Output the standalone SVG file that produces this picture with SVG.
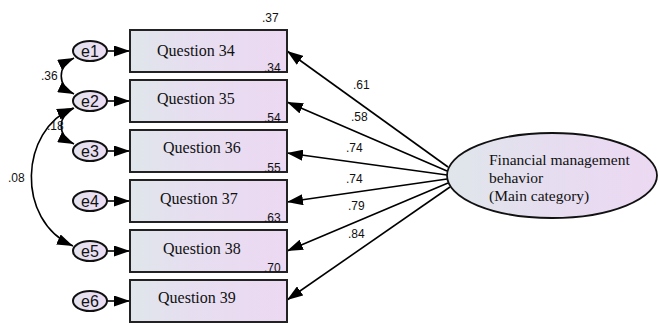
<svg xmlns="http://www.w3.org/2000/svg" width="659" height="325" viewBox="0 0 659 325">
  <style>
    .box { fill: url(#boxFill); stroke: #222; stroke-width: 2; }
    .err { fill: url(#errFill); stroke: #111; stroke-width: 2; }
    .lat { fill: url(#latFill); stroke: #111; stroke-width: 1.8; }
    .qt { font-size: 16px; fill: #111; }
    .lt { font-size: 15.5px; fill: #111; }
    .et { font-family: "Liberation Sans", Arial, sans-serif; font-size: 16px; fill: #111; text-anchor: middle; }
    .num { font-family: "Liberation Sans", Arial, sans-serif; font-size: 12px; fill: #111; }
    .path { fill: none; stroke: #000; stroke-width: 1.6; }
  </style>
  <defs>
    <linearGradient id="boxFill" x1="0" y1="0" x2="1" y2="0">
      <stop offset="0" stop-color="#dfe6ea"/>
      <stop offset="0.35" stop-color="#e6dff0"/>
      <stop offset="1" stop-color="#ecd8f2"/>
    </linearGradient>
    <linearGradient id="errFill" x1="0" y1="0" x2="1" y2="0">
      <stop offset="0" stop-color="#e3e3ef"/>
      <stop offset="1" stop-color="#ecdcf2"/>
    </linearGradient>
    <linearGradient id="latFill" x1="0" y1="0" x2="1" y2="0">
      <stop offset="0" stop-color="#dfe6ea"/>
      <stop offset="0.5" stop-color="#e6ddf0"/>
      <stop offset="1" stop-color="#ecd8f2"/>
    </linearGradient>
    <marker id="head" viewBox="0 0 16 11" refX="16" refY="5.5" markerWidth="16" markerHeight="11" markerUnits="userSpaceOnUse" orient="auto-start-reverse">
      <path d="M0,0 L16,5.5 L0,11 Z" fill="#000"/>
    </marker>
  </defs>

  <!-- connectors -->
  <g id="connectors">
    <!-- error terms to indicators -->
    <path class="path" d="M107,51 L130,51" marker-end="url(#head)"/>
    <path class="path" d="M107,101 L130,101" marker-end="url(#head)"/>
    <path class="path" d="M107,151 L130,151" marker-end="url(#head)"/>
    <path class="path" d="M107,201 L130,201" marker-end="url(#head)"/>
    <path class="path" d="M107,251 L130,251" marker-end="url(#head)"/>
    <path class="path" d="M107,301 L130,301" marker-end="url(#head)"/>
    <!-- covariances -->
    <path class="path" d="M74,58 C57,66 57,86 74,94" marker-start="url(#head)" marker-end="url(#head)"/>
    <path class="path" d="M74,108 C57,116 57,136 74,144" marker-start="url(#head)" marker-end="url(#head)"/>
    <path class="path" d="M73,108 C20,130 15,220 73,246" marker-start="url(#head)" marker-end="url(#head)"/>
    <!-- loadings -->
    <path class="path" d="M448,167 L287,51" marker-end="url(#head)"/>
    <path class="path" d="M447,171 L287,102" marker-end="url(#head)"/>
    <path class="path" d="M447,175 L287,153" marker-end="url(#head)"/>
    <path class="path" d="M447,179 L287,202" marker-end="url(#head)"/>
    <path class="path" d="M448,183 L287,251" marker-end="url(#head)"/>
    <path class="path" d="M450,187 L287,300" marker-end="url(#head)"/>
  </g>

  <!-- latent factor -->
  <g id="factor" font-family="'Liberation Serif', 'Times New Roman', serif">
    <ellipse class="lat" cx="552" cy="175.5" rx="105" ry="42.5"/>
    <text class="lt" x="489" y="165">Financial management</text>
    <text class="lt" x="489" y="183">behavior</text>
    <text class="lt" x="489" y="201">(Main category)</text>
  </g>

  <!-- indicators -->
  <g id="indicators" font-family="'Liberation Serif', 'Times New Roman', serif">
    <g id="q34">
      <rect class="box" x="130" y="30" width="157" height="42"/>
      <text class="qt" x="157" y="56">Question 34</text>
    </g>
    <g id="q35">
      <rect class="box" x="130" y="80" width="157" height="42"/>
      <text class="qt" x="157" y="104">Question 35</text>
    </g>
    <g id="q36">
      <rect class="box" x="130" y="130" width="157" height="42"/>
      <text class="qt" x="163" y="153">Question 36</text>
    </g>
    <g id="q37">
      <rect class="box" x="130" y="180" width="157" height="42"/>
      <text class="qt" x="160" y="204">Question 37</text>
    </g>
    <g id="q38">
      <rect class="box" x="130" y="230" width="157" height="42"/>
      <text class="qt" x="163" y="254">Question 38</text>
    </g>
    <g id="q39">
      <rect class="box" x="130" y="280" width="157" height="42"/>
      <text class="qt" x="158" y="303">Question 39</text>
    </g>
  </g>

  <!-- error terms -->
  <g id="e1"><ellipse class="err" cx="90" cy="51" rx="17" ry="10"/><text class="et" x="90" y="57">e1</text></g>
  <g id="e2"><ellipse class="err" cx="90" cy="101" rx="17" ry="10"/><text class="et" x="90" y="107">e2</text></g>
  <g id="e3"><ellipse class="err" cx="90" cy="151" rx="17" ry="10"/><text class="et" x="90" y="157">e3</text></g>
  <g id="e4"><ellipse class="err" cx="90" cy="201" rx="17" ry="10"/><text class="et" x="90" y="207">e4</text></g>
  <g id="e5"><ellipse class="err" cx="90" cy="251" rx="17" ry="10"/><text class="et" x="90" y="257">e5</text></g>
  <g id="e6"><ellipse class="err" cx="90" cy="301" rx="17" ry="10"/><text class="et" x="90" y="307">e6</text></g>

  <!-- estimates -->
  <g id="estimates">
    <text class="num" x="262" y="22">.37</text>
    <text class="num" x="264" y="72">.34</text>
    <text class="num" x="264" y="122">.54</text>
    <text class="num" x="264" y="172">.55</text>
    <text class="num" x="264" y="222">.63</text>
    <text class="num" x="264" y="272">.70</text>
    <text class="num" x="41" y="80">.36</text>
    <text class="num" x="47" y="130">.18</text>
    <text class="num" x="8" y="182">.08</text>
    <text class="num" x="353" y="89">.61</text>
    <text class="num" x="351" y="121">.58</text>
    <text class="num" x="346" y="152">.74</text>
    <text class="num" x="346" y="183">.74</text>
    <text class="num" x="348" y="210">.79</text>
    <text class="num" x="348" y="238">.84</text>
  </g>
</svg>
